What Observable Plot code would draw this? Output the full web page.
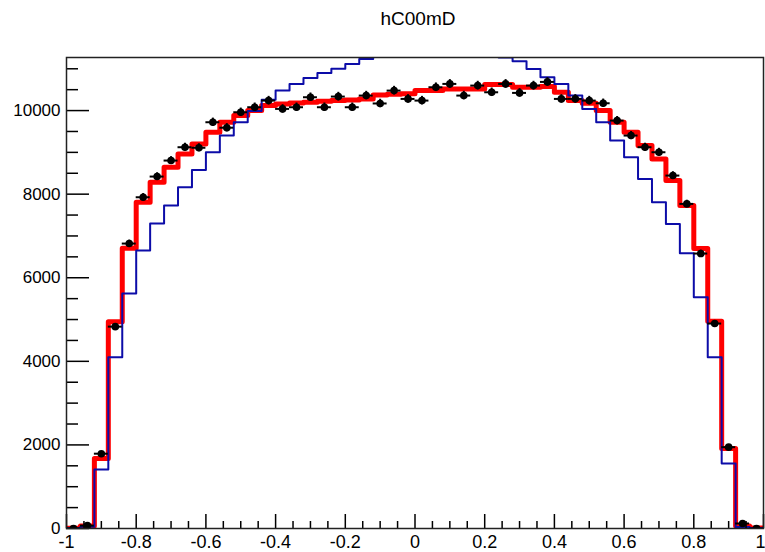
<!DOCTYPE html>
<html><head><meta charset="utf-8">
<script src="https://cdn.jsdelivr.net/npm/d3@7"></script>
<script src="https://cdn.jsdelivr.net/npm/@observablehq/plot@0.6"></script>
<style>
body{margin:0;background:#fff;}
#title{height:40px;width:765px;text-align:center;font:19px "Liberation Sans",Arial,sans-serif;line-height:38px;padding-left:71px;box-sizing:border-box;color:#000;}
#chart svg{display:block;}
</style></head><body>
<div id="title">hC00mD</div>
<div id="chart"></div>
<script>
// 50 bins from -1 to 1
const xMin = -1, xMax = 1, nBins = 50;
// Data points (black markers)
const dataCounts = [0, 70, 1790, 4830, 6818, 7926, 8421, 8804, 9123, 9110,
  9721, 9590, 9960, 10080, 10239, 10040, 10080, 10319, 10080, 10335,
  10080, 10359, 10170, 10478, 10279, 10239, 10558, 10638, 10359, 10598,
  10438, 10638, 10423, 10598, 10686, 10279, 10280, 10239, 10175, 9760,
  9402, 9123, 9003, 8445, 7767, 6579, 4904, 1946, 120, 0];
// Red histogram (fit)
const fitCounts = [5, 60, 1675, 4950, 6705, 7806, 8285, 8644, 8963, 9203,
  9482, 9721, 9880, 10000, 10120, 10160, 10180, 10200, 10223, 10239,
  10255, 10279, 10370, 10390, 10400, 10478, 10478, 10518, 10518, 10518,
  10622, 10622, 10558, 10558, 10574, 10438, 10239, 10175, 10000, 9721,
  9482, 9163, 8843, 8325, 7727, 6699, 4960, 1914, 60, 10];
// Blue histogram (reference), clipped at the top of the frame
const refCounts = [10, 40, 1410, 4098, 5622, 6651, 7297, 7727, 8166, 8581,
  9003, 9402, 9721, 9990, 10260, 10478, 10638, 10780, 10900, 11000,
  11116, 11236, 11330, 11410, 11470, 11510, 11530, 11520, 11480, 11420,
  11350, 11270, 11180, 10997, 10797, 10638, 10359, 10040, 9721, 9282,
  8883, 8365, 7806, 7289, 6587, 5534, 4099, 1555, 35, 10];
const yMax = 11270;
const yMajorTicks = [0, 2000, 4000, 6000, 8000, 10000];
const xMajorTicks = [-1, -0.8, -0.6, -0.4, -0.2, 0, 0.2, 0.4, 0.6, 0.8, 1];

const width = 765, height = 512;
const mL = 66, mR = 2, mT = 17, mB = 24;
const pw = width - mL - mR, ph = height - mT - mB;

const bw = (xMax - xMin) / nBins;
const edges = d3.range(nBins + 1).map(i => xMin + i * bw);
function stepData(counts) {
  const pts = counts.map((v, i) => ({x: edges[i], y: v}));
  pts.push({x: edges[nBins], y: counts[nBins - 1]});
  return pts;
}
const pts = dataCounts.map((v, i) => ({lo: edges[i], hi: edges[i + 1], xc: (edges[i] + edges[i + 1]) / 2, v, e: Math.sqrt(v)}));

const yMinor = d3.range(0, yMax, 500).filter(v => !yMajorTicks.includes(v));
const xMinor = d3.range(-1, 1.0001, 0.05).map(v => Math.round(v * 100) / 100).filter(v => !xMajorTicks.some(t => Math.abs(t - v) < 1e-9));

const fmt = d => d === 0 ? "0" : (d < 0 ? "-" : "") + String(Math.abs(d));
const xLabelsMain = xMajorTicks.filter(d => d < xMax);
const xLabelsEnd = xMajorTicks.filter(d => d >= xMax);

const chart = Plot.plot({
  width, height,
  marginLeft: mL, marginRight: mR, marginTop: mT, marginBottom: mB,
  style: {fontSize: "17px", fontFamily: "Liberation Sans, Arial, sans-serif", color: "#000", background: "#fff"},
  x: {domain: [xMin, xMax]},
  y: {domain: [0, yMax]},
  marks: [
    Plot.line(stepData(fitCounts), {x: "x", y: "y", curve: "step-after", stroke: "#ff0000", strokeWidth: 5, clip: true}),
    Plot.line(stepData(refCounts), {x: "x", y: "y", curve: "step-after", stroke: "#0c0ca8", strokeWidth: 2, clip: true}),
    Plot.ruleY(pts, {y: "v", x1: "lo", x2: "hi", stroke: "#000", strokeWidth: 2, clip: true}),
    Plot.ruleX(pts, {x: "xc", y1: d => d.v - d.e, y2: d => d.v + d.e, stroke: "#000", strokeWidth: 2, clip: true}),
    Plot.dot(pts, {x: "xc", y: "v", r: 3.8, fill: "#000", clip: true}),
    // inner ticks
    Plot.tickY(yMajorTicks, {y: d => d, insetRight: pw - 23, stroke: "#000", strokeWidth: 1.5}),
    Plot.tickY(yMinor, {y: d => d, insetRight: pw - 12, stroke: "#000", strokeWidth: 1.5}),
    Plot.tickX(xMajorTicks, {x: d => d, insetTop: ph - 14, stroke: "#000", strokeWidth: 1.5}),
    Plot.tickX(xMinor, {x: d => d, insetTop: ph - 7, stroke: "#000", strokeWidth: 1.5}),
    Plot.frame({stroke: "#222", strokeWidth: 1.5}),
    Plot.axisY(yMajorTicks, {tickSize: 0, tickPadding: 6, tickFormat: d => String(d), label: null}),
    Plot.axisX(xLabelsMain, {tickSize: 0, tickPadding: 7, tickFormat: fmt, label: null, fontSize: 18}),
    Plot.axisX(xLabelsEnd, {tickSize: 0, tickPadding: 7, tickFormat: fmt, label: null, fontSize: 18, dx: -3})
  ]
});
document.getElementById("chart").appendChild(chart);
</script></body></html>
